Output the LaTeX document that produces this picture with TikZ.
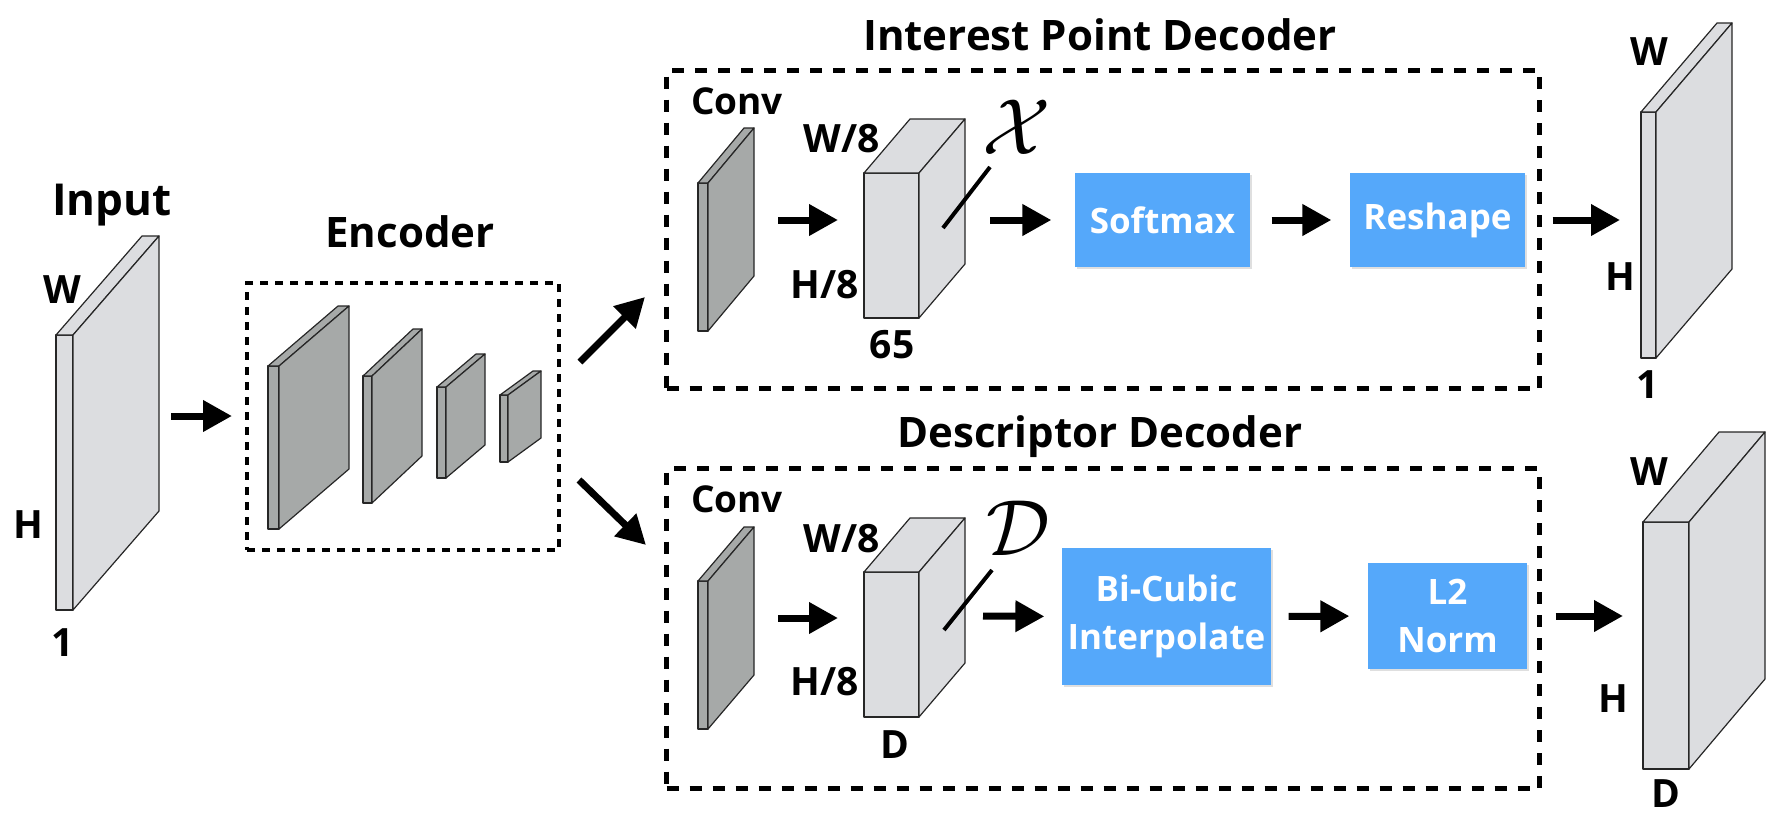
\documentclass[tikz,border=0pt]{standalone}
\usepackage{fontspec}
\setmainfont{Open Sans}
\usetikzlibrary{arrows.meta,shadows}

\definecolor{slablight}{RGB}{220,221,224}
\definecolor{slabdark}{RGB}{166,169,168}
\definecolor{boxblue}{RGB}{85,168,250}

\newcommand{\lblfont}{\fontsize{19.5}{20}\selectfont\bfseries}
\newcommand{\ttlfont}{\fontsize{21}{22}\selectfont\bfseries}
\newcommand{\convfont}{\fontsize{18.5}{19}\selectfont\bfseries}
\newcommand{\opfont}{\fontsize{17.5}{24}\selectfont\bfseries}
\newcommand{\symfont}{\fontsize{24.88}{25}\selectfont}

% name, x, y (front top left), width, height, dx, dy, fill
\newcommand{\drawslab}[8]{%
  \node[slabline, fill=#8, anchor=north west, inner sep=0pt, outer sep=0pt,
    minimum width=#4*0.5pt, minimum height=#5*0.5pt] (#1) at (#2,#3) {};
  \draw[slabline, fill=#8] (#1.north west) -- ++(#6,#7) -- ++(#4,0) -- (#1.north east) -- cycle;
  \draw[slabline, fill=#8] (#1.north east) -- ++(#6,#7) -- ++(0,#5) -- (#1.south east) -- cycle;
}

\tikzset{
  every picture/.style={line width=0.6pt},
  slabline/.style={draw=black!85, line width=0.6pt, line join=round},
  flow/.style={line width=3.5pt, -{Triangle[length=14.5pt,width=15pt]}},
  encbox/.style={draw, line width=2pt, dash pattern=on 4pt off 3.5pt, anchor=north west, inner sep=0pt},
  decbox/.style={draw, line width=2.5pt, dash pattern=on 6pt off 5.5pt, anchor=north west, inner sep=0pt},
  opbox/.style={fill=boxblue, text=white, inner sep=0pt, font=\opfont, align=center,
    drop shadow={opacity=0.25, shadow xshift=0.8pt, shadow yshift=-0.8pt}},
  lbl/.style={anchor=base, inner sep=0pt, font=\lblfont},
  ttl/.style={anchor=base, inner sep=0pt, font=\ttlfont},
  convlbl/.style={anchor=base, inner sep=0pt, font=\convfont},
  symlbl/.style={inner sep=0pt, font=\symfont},
  lead/.style={line width=2pt},
}

\begin{document}
\begin{tikzpicture}[x=0.5pt,y=0.5pt,yscale=-1,xscale=1]
\useasboundingbox (0,0) rectangle (1774,820);

%Dashed boxes
\node[encbox, minimum width=312*0.5pt, minimum height=267*0.5pt] (enc) at (245,281) {};
\node[decbox, minimum width=873*0.5pt, minimum height=318*0.5pt] (ipd) at (664,68) {};
\node[decbox, minimum width=873*0.5pt, minimum height=320*0.5pt] (dsd) at (664,466) {};

%Input
\drawslab{inp}{56}{335}{17}{275}{86}{-99}{slablight}
%Encoder layers
\drawslab{enca}{268}{366}{11}{163}{70}{-60}{slabdark}
\drawslab{encb}{363}{376}{9}{127}{50}{-47}{slabdark}
\drawslab{encc}{437}{387}{9}{91}{39}{-33}{slabdark}
\drawslab{encd}{500}{395}{8}{67}{33}{-24}{slabdark}
%Interest point branch
\drawslab{convT}{698}{183}{10}{148}{46}{-55}{slabdark}
\drawslab{cubeT}{864}{173}{55}{145}{46}{-54}{slablight}
\drawslab{outT}{1641}{112}{15}{246}{76}{-89}{slablight}
%Descriptor branch
\drawslab{convB}{698}{581}{10}{148}{46}{-54}{slabdark}
\drawslab{cubeB}{864}{572}{55}{145}{46}{-54}{slablight}
\drawslab{outB}{1643}{522}{46}{247}{76}{-90}{slablight}

%Blue operations
\node[opbox, minimum width=175*0.5pt, minimum height=94*0.5pt] (softmax) at (1162.5,220) {Softmax};
\node[opbox, minimum width=175*0.5pt, minimum height=94*0.5pt] (reshape) at (1437.5,220) {Reshape};
\node[opbox, minimum width=209*0.5pt, minimum height=137*0.5pt] (bicubic) at (1166.5,616.5) {Bi-Cubic\\Interpolate};
\node[opbox, minimum width=159*0.5pt, minimum height=106*0.5pt] (l2norm) at (1447.5,616) {L2\\Norm};

%Titles
\node[ttl, font=\fontsize{22}{22}\selectfont\bfseries] (inptitle) at (112,215) {Input};
\node[ttl] (enctitle) at (410,247) {Encoder};
\node[ttl] (ipdtitle) at (1100,50) {Interest Point Decoder};
\node[ttl] (dsdtitle) at (1100,447) {Descriptor Decoder};

%Dimension labels
\node[lbl] (inpW) at (62,303) {W};
\node[lbl] (inpH) at (28,538) {H};
\node[lbl] (inp1) at (63,656) {1};
\node[convlbl] (convTl) at (737,114) {Conv};
\node[lbl] (cubeTW) at (842,152) {W/8};
\node[lbl] (cubeTH) at (825,298) {H/8};
\node[lbl] (cubeTC) at (892,358) {65};
\node[convlbl] (convBl) at (737,512) {Conv};
\node[lbl] (cubeBW) at (842,552) {W/8};
\node[lbl] (cubeBH) at (825,695) {H/8};
\node[lbl] (cubeBC) at (895,758) {D};
\node[lbl] (outTW) at (1649,65) {W};
\node[lbl] (outTH) at (1620,290) {H};
\node[lbl] (outT1) at (1648,398) {1};
\node[lbl] (outBW) at (1649,485) {W};
\node[lbl] (outBH) at (1613,712) {H};
\node[lbl] (outBD) at (1666,807) {D};

%Tensor names
\node[symlbl] (xsym) at (1017,127) {\scalebox{1.6}{$\mathcal{X}$}};
\node[symlbl] (dsym) at (1018,528) {\scalebox{1.6}{$\mathcal{D}$}};
\coordinate (xlead) at (943,228);
\coordinate (xleadend) at (990,167);
\coordinate (dlead) at (944,630);
\coordinate (dleadend) at (992,570);
\draw[lead] (xlead) -- (xleadend);
\draw[lead] (dlead) -- (dleadend);

%Arrow ends
\coordinate (a1s) at (171,416);
\coordinate (a1e) at (232,416);
\coordinate (a2s) at (580,362);
\coordinate (a2e) at (645,297);
\coordinate (a3s) at (579,480);
\coordinate (a3e) at (646,545);
\coordinate (a4s) at (778,220);
\coordinate (a4e) at (838,220);
\coordinate (a5s) at (990,220);
\coordinate (a7e) at (1620,220);
\coordinate (a8s) at (778,618);
\coordinate (a8e) at (838,618);
\coordinate (a9s) at (983,616);
\coordinate (a11e) at (1623,616);

\draw[flow] (a1s) -- (a1e);
\draw[flow] (a2s) -- (a2e);
\draw[flow] (a3s) -- (a3e);
\draw[flow] (a4s) -- (a4e);
\draw[flow, shorten >=11.5pt] (a5s) -- (softmax.west);
\draw[flow, shorten <=10.5pt, shorten >=9pt] (softmax.east) -- (reshape.west);
\draw[flow, shorten <=13.5pt] (reshape.east) -- (a7e);
\draw[flow] (a8s) -- (a8e);
\draw[flow, shorten >=8.5pt] (a9s) -- (bicubic.west);
\draw[flow, shorten <=8.5pt, shorten >=9pt] (bicubic.east) -- (l2norm.west);
\draw[flow, shorten <=14pt] (l2norm.east) -- (a11e);

\end{tikzpicture}
\end{document}
